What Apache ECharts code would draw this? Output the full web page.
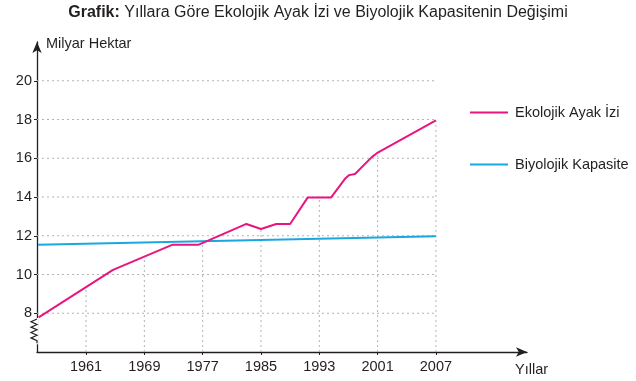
<!DOCTYPE html>
<html><head><meta charset="utf-8">
<script src="https://cdn.jsdelivr.net/npm/echarts@6/dist/echarts.min.js"></script>
<style>html,body{margin:0;padding:0;background:#fff}#c{width:636px;height:381px}</style>
</head><body><div id="c"></div>
<script>
// ---- data ----
const tickYears = [1961, 1969, 1977, 1985, 1993, 2001, 2007];
const yTicks = [8, 10, 12, 14, 16, 18, 20];
const footprintYears = [1954.5, 1964.7, 1972.8, 1976.4, 1983.0, 1985.0, 1987.1, 1989.0, 1991.4, 1994.6, 1996.6, 1997.1, 1997.9, 2000.2, 2000.9, 2007];
const footprintValues = [7.79, 10.24, 11.53, 11.53, 12.61, 12.35, 12.61, 12.61, 13.97, 13.97, 14.97, 15.13, 15.19, 16.06, 16.26, 17.95];
const capacityYears = [1954.4, 2007];
const capacityValues = [11.54, 11.98];
const dropTops = [9.35, 10.92, 11.55, 12.35, 13.97, 16.15, 17.95];

const PINK = '#e8157f', BLUE = '#1aa7e0', AX = '#231f20', GRID = '#b3b3b3';
const X_MIN = 0.159, X_MAX = 8.562, Y_MIN = 6, Y_MAX = 22;

// year -> position on the (evenly spaced) year axis
function pos(year) {
  const t = tickYears;
  if (year <= t[1]) return 1 + (year - t[0]) / (t[1] - t[0]);
  for (let i = 1; i < t.length; i++) {
    if (year <= t[i]) return i + (year - t[i - 1]) / (t[i] - t[i - 1]);
  }
  const n = t.length;
  return n + (year - t[n - 1]) / (t[n - 1] - t[n - 2]);
}
const tickPos = tickYears.map(pos);

const chart = echarts.init(document.getElementById('c'), null, {renderer: 'canvas'});
const FONT = '"Liberation Sans", Arial, sans-serif';

chart.setOption({
  animation: false,
  textStyle: {fontFamily: FONT},
  title: {
    text: '{b|Grafik:} Yıllara Göre Ekolojik Ayak İzi ve Biyolojik Kapasitenin Değişimi',
    left: 'center', top: 0,
    textStyle: {
      fontSize: 16, fontWeight: 'normal', color: AX, fontFamily: FONT,
      rich: {b: {fontSize: 16, fontWeight: 'bold', color: AX, fontFamily: FONT}}
    }
  },
  legend: {
    orient: 'vertical', left: 465, top: 100, itemGap: 37,
    itemWidth: 38, itemHeight: 2, icon: 'rect',
    textStyle: {fontSize: 14.5, color: AX, fontFamily: FONT, padding: [0, 0, 0, 2]},
    data: ['Ekolojik Ayak İzi', 'Biyolojik Kapasite']
  },
  grid: {left: 37, right: 109, top: 42, bottom: 29, containLabel: false},
  xAxis: {
    type: 'value', min: X_MIN, max: X_MAX,
    name: 'Yıllar', nameLocation: 'end', nameGap: 0,
    nameTextStyle: {fontSize: 14.5, color: AX, align: 'left', verticalAlign: 'top', padding: [10, 0, 0, -12], fontFamily: FONT},
    axisLine: {show: true, symbol: ['none', 'arrow'], symbolSize: [7, 11], lineStyle: {color: AX, width: 1.3}},
    axisTick: {show: true, customValues: tickPos, length: 3, lineStyle: {color: AX, width: 1}},
    axisLabel: {
      customValues: tickPos, margin: 7, fontSize: 14.5, color: AX, fontFamily: FONT,
      formatter: v => { const i = tickPos.findIndex(p => Math.abs(p - v) < 1e-6); return i >= 0 ? String(tickYears[i]) : ''; }
    },
    splitLine: {show: false}
  },
  yAxis: {
    type: 'value', min: Y_MIN, max: Y_MAX, interval: 2,
    name: 'Milyar Hektar', nameLocation: 'end', nameGap: -2,
    nameTextStyle: {fontSize: 14.5, color: AX, align: 'left', verticalAlign: 'middle', padding: [0, 0, 0, 9], fontFamily: FONT},
    axisLine: {show: true, symbol: ['none', 'arrow'], symbolSize: [7, 11], lineStyle: {color: AX, width: 1.3}},
    axisTick: {show: true, customValues: yTicks, length: 3, lineStyle: {color: AX, width: 1}},
    axisLabel: {customValues: yTicks, margin: 5, fontSize: 14.5, color: AX, fontFamily: FONT},
    splitLine: {show: false}
  },
  series: [
    { // horizontal dashed grid lines, up to the last year tick
      type: 'custom', silent: true, z: 1,
      data: yTicks.map(v => [v]),
      renderItem: (params, api) => {
        const a = api.coord([X_MIN, api.value(0)]), b = api.coord([tickPos[tickPos.length - 1], api.value(0)]);
        return {type: 'line', shape: {x1: a[0], y1: a[1], x2: b[0], y2: b[1]},
          style: {stroke: GRID, lineWidth: 1, lineDash: [2, 3]}};
      }
    },
    { // vertical dashed drop lines at each year tick
      type: 'custom', silent: true, z: 1,
      data: tickPos.map((p, i) => [p, dropTops[i]]),
      renderItem: (params, api) => {
        const a = api.coord([api.value(0), Y_MIN]), b = api.coord([api.value(0), api.value(1)]);
        return {type: 'line', shape: {x1: a[0], y1: a[1], x2: b[0], y2: b[1]},
          style: {stroke: GRID, lineWidth: 1, lineDash: [2, 3]}};
      }
    },
    { // axis break zigzag
      type: 'custom', silent: true, z: 5,
      data: [[X_MIN, 7.7, 6.45]],
      renderItem: (params, api) => {
        const top = api.coord([api.value(0), api.value(1)]);
        const bot = api.coord([api.value(0), api.value(2)]);
        const x0 = top[0], n = 9, h = (bot[1] - top[1]) / n;
        const pts = [[x0, top[1]]];
        for (let k = 1; k < n; k++) pts.push([k % 2 ? x0 - 6 : x0, top[1] + k * h]);
        pts.push([x0, bot[1]]);
        return {type: 'group', children: [
          {type: 'line', shape: {x1: x0, y1: top[1] - 1, x2: x0, y2: bot[1] + 1}, style: {stroke: '#fff', lineWidth: 3}},
          {type: 'polyline', shape: {points: pts}, style: {stroke: AX, lineWidth: 1.2, fill: null}}
        ]};
      }
    },
    {
      name: 'Biyolojik Kapasite', type: 'line', z: 3,
      data: capacityYears.map((y, i) => [pos(y), capacityValues[i]]),
      showSymbol: false, symbol: 'none', color: BLUE,
      lineStyle: {color: BLUE, width: 2}
    },
    {
      name: 'Ekolojik Ayak İzi', type: 'line', z: 4,
      data: footprintYears.map((y, i) => [pos(y), footprintValues[i]]),
      showSymbol: false, symbol: 'none', color: PINK,
      lineStyle: {color: PINK, width: 2}
    }
  ]
});
</script></body></html>
